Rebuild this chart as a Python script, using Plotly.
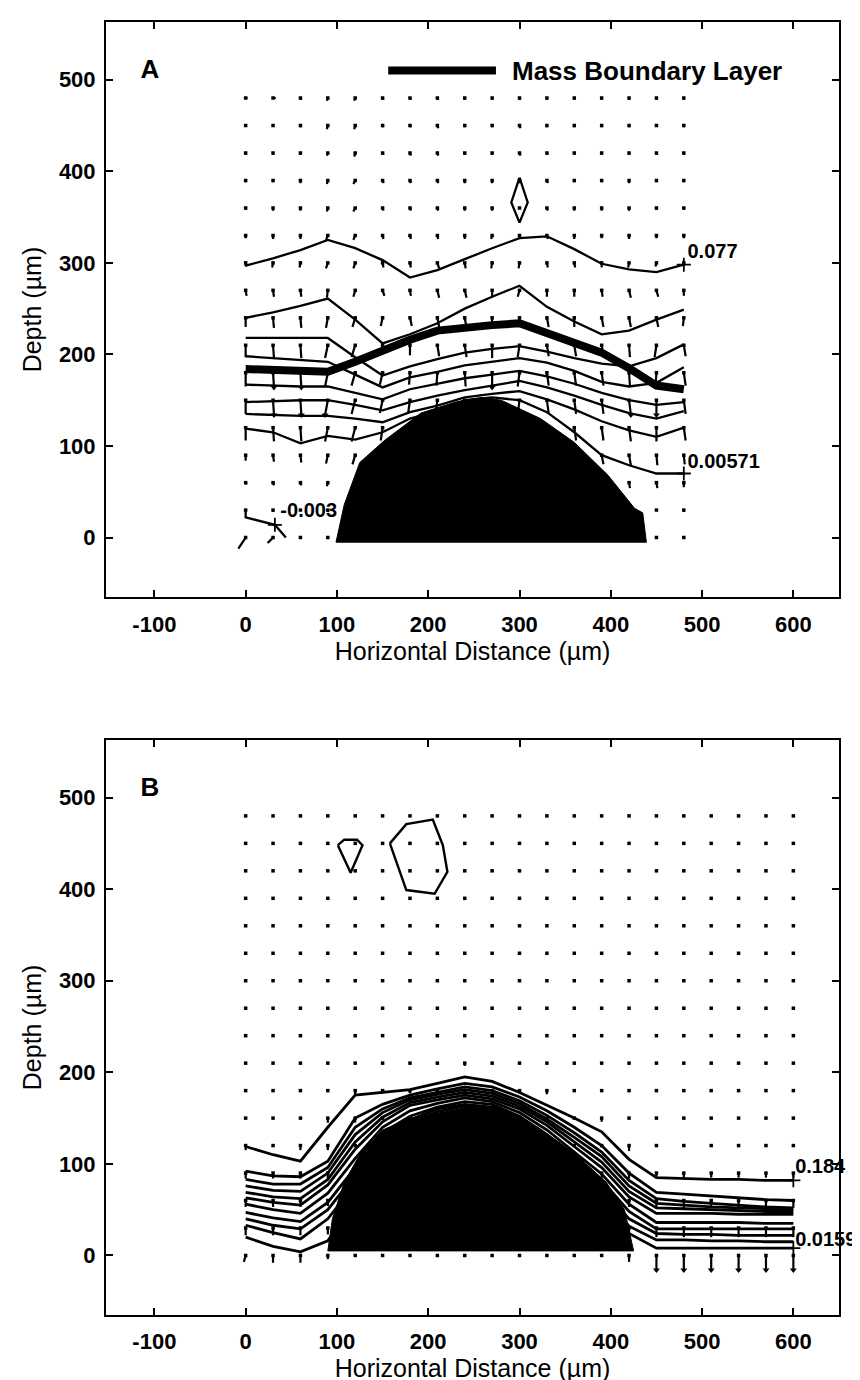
import plotly.graph_objects as go

# ---------------- Panel A data ----------------
grid_x_A = [0, 30, 60, 90, 120, 150, 180, 210, 240, 270, 300, 330, 360, 390, 420, 450, 480]
grid_y_A = [480, 450, 420, 390, 360, 330, 300, 270, 240, 210, 180, 150, 120, 90, 60, 30, 0]
# velocity vectors (µm on the plot) per row (top -> bottom), per column (left -> right)
U_A = [
    [2, 3, 1, -1, -1, 1, 1, 1, 0, 0, 1, 0, 0, 0, 0, 0, 0],
    [0, 1, 1, -1, -1, 1, 1, 1, 0, 0, 1, 0, 0, 0, 0, 0, 0],
    [0, 0, 0, -1, -1, 1, 1, 1, 0, 0, 1, 1, 0, 0, 0, 0, 0],
    [0, 0, 0, -1, -2, 1, 1, 1, 0, 0, 1, 1, 0, 0, 0, 0, 0],
    [0, 0, 0, -1, -2, 1, 1, 1, 0, 0, 0, 1, 0, 0, 0, 0, 0],
    [0, 0, 0, -2, -2, 1, 1, 1, 0, -1, 1, 1, 0, 0, 0, 0, 0],
    [0, -1, -1, -2, -2, 1, 1, 2, 1, -1, -1, 1, 1, 0, -1, -1, 0],
    [1, 1, 1, -1, -2, 2, 1, 2, 2, 0, -2, 0, 0, 1, 2, 2, 0],
    [0, 1, 1, -2, -3, -2, 2, 2, 2, 0, -2, 2, 0, 2, 2, 2, -1],
    [0, 1, 1, -3, -4, -3, 0, 2, 2, 0, -2, 2, 2, 2, 1, -2, 2],
    [0, 1, 1, -3, -4, -3, -1, -1, 1, 0, -2, 2, 2, 2, 1, -1, 2],
    [0, 1, 1, -3, -4, -3, -2, -2, 0, 0, -2, 2, 2, 2, 2, 0, 2],
    [0, 1, 1, -3, -4, -2, -2, -2, 0, 0, -1, 2, 2, 2, 2, 0, 2],
    [0, 1, 1, -2, -3, -2, -2, -1, 0, 0, 0, 2, 2, 2, 2, 1, 1],
    [1, 1, 1, -1, -2, -2, 0, 0, 0, 0, 0, 0, 0, 1, 1, 1, 0],
    [0, 0, 0, 0, 0, 0, 0, 0, 0, 0, 0, 0, 0, 0, 0, 0, 0],
    [-8, -6, 0, 0, 0, 0, 0, 0, 0, 0, 0, 0, 0, 0, 0, 0, 0],
]
V_A = [
    [0, 0, -2, -3, -3, -2, -2, -2, -2, -2, -2, -2, -2, -2, -2, -2, -2],
    [0, 0, -2, -4, -4, -2, -2, -3, -2, -2, -3, -2, -2, -2, -2, 0, -2],
    [-2, -2, -2, -3, -4, -2, -3, -3, -2, -2, -3, -2, -2, -2, -2, -2, -2],
    [-2, -2, -3, -4, -4, -3, -3, -3, -3, -3, -3, -3, -2, -2, -3, -2, -2],
    [-2, -3, -3, -4, -4, -3, -3, -3, -3, -3, 0, -3, -3, -3, -3, -2, -2],
    [-3, -4, -4, -5, -5, -4, -4, -4, -4, -4, -4, -4, -4, -3, -4, -3, -3],
    [-4, -5, -5, -6, -6, -5, -5, -6, -6, -6, -6, -5, -5, -5, -5, -4, -4],
    [-6, -7, -7, -8, -7, -6, -6, -8, -8, -8, -7, -7, -7, -7, -8, -7, -6],
    [-10, -11, -11, -11, -10, -9, -9, -10, -11, -11, -10, -10, -10, -10, -10, -10, -9],
    [-13, -14, -14, -14, -13, -11, -11, -12, -13, -14, -13, -12, -12, -12, -13, -13, -12],
    [-15, -16, -16, -15, -14, -13, -13, -14, -15, -16, -15, -14, -14, -14, -15, -15, -14],
    [-15, -16, -16, -16, -15, -14, -14, -15, -16, -16, -16, -15, -15, -15, -16, -16, -15],
    [-14, -15, -15, -15, -15, -14, -14, -14, -14, -14, -14, -14, -14, -14, -15, -15, -14],
    [-6, -7, -8, -9, -10, -11, -9, -9, -9, -9, -9, -9, -9, -10, -11, -11, -10],
    [-2, -3, -3, -4, -5, -5, 0, 0, 0, 0, 0, 0, 0, -5, -6, -6, -5],
    [-1, -2, 0, -2, 0, 0, 0, 0, 0, 0, 0, 0, 0, 0, -3, -1, -2],
    [-12, -6, 0, 0, 0, 0, 0, 0, 0, 0, 0, 0, 0, 0, 0, 0, 0],
]
# contour lines: depth at each grid column
A_c1 = [297, 305, 314, 325, 316, 303, 284, 292, 304, 316, 327, 329, 315, 299, 293, 290, 298]
A_c2 = [240, 246, 253, 261, 238, 212, 222, 234, 250, 263, 275, 252, 236, 222, 226, 238, 249]
A_c3 = [218, 218, 218, 218, 197, 177, 187, 195, 202, 206, 209, 203, 196, 190, 187, 196, 211]
A_c4 = [198, 196, 194, 192, 178, 164, 175, 181, 188, 192, 196, 191, 182, 170, 165, 169, 186]
A_c5 = [167, 166, 165, 165, 158, 151, 162, 168, 174, 178, 182, 176, 168, 158, 150, 145, 148]
A_c6 = [148, 149, 150, 150, 145, 139, 148, 155, 161, 166, 171, 164, 155, 145, 136, 130, 138]
A_c7 = [135, 134, 133, 133, 130, 126, 137, 144, 153, 157, 160, 151, 140, 127, 117, 110, 120]
A_c8 = [119, 115, 103, 111, 107, 115, 130, 138, 150, 153, 150, 137, 115, 90, 79, 70, 70]
A_mbl = [184, 183, 182, 181, 192, 205, 216, 226, 230, 232, 234, 224, 213, 202, 185, 166, 162]
A_neg_x = [0, 0, 32, 44]
A_neg_y = [30, 22, 14, 0]
A_diamond_x = [300, 309, 300, 291, 300]
A_diamond_y = [393, 366, 344, 366, 393]
A_dome_x = [99, 108, 125, 152, 192, 230, 258, 280, 323, 360, 397, 426, 435, 439, 99]
A_dome_y = [-5, 36, 82, 106, 136, 148, 153, 150, 130, 104, 68, 32, 27, -5, -5]
A_label_text = ["0.077", "0.00571"]
A_label_x = [480, 480]
A_label_y = [298, 70]
A_label_ty = [311, 81]
A_neg_label = "-0.003"
A_neg_label_pt = (32, 14)
A_neg_label_txt = (38, 28)

# ---------------- Panel B data ----------------
grid_x_B = [0, 30, 60, 90, 120, 150, 180, 210, 240, 270, 300, 330, 360, 390, 420, 450, 480, 510, 540, 570, 600]
grid_y_B = [480, 450, 420, 390, 360, 330, 300, 270, 240, 210, 180, 150, 120, 90, 60, 30, 0]
Z21 = [0] * 21
U_B = [Z21] * 16 + [[-2] + [0] * 20]
V_B = [
    Z21, Z21, Z21, Z21, Z21, Z21, Z21, Z21, Z21,
    [0, 0, 0, 0, 0, 0, 0, -2, -3, 0, 0, 0, 0, 0, 0, 0, 0, 0, 0, 0, 0],
    [0, 0, 0, 0, -5, -3, -3, 0, 0, 0, -3, -4, 0, 0, 0, 0, 0, 0, 0, 0, 0],
    [0, 0, 0, -5, -5, 0, 0, 0, 0, 0, 0, 0, 0, -4, 0, 0, 0, 0, 0, 0, 0],
    [-5, 0, -5, -5, 0, 0, 0, 0, 0, 0, 0, 0, 0, 0, -6, 0, 0, 0, 0, 0, 0],
    [-6, -6, -6, -6, 0, 0, 0, 0, 0, 0, 0, 0, 0, -6, -6, -5, -5, -5, -5, -5, -5],
    [-7, -7, -7, -6, 0, 0, 0, 0, 0, 0, 0, 0, 0, 0, -7, -8, -8, -8, -8, -8, -8],
    [-8, -8, -8, -7, 0, 0, 0, 0, 0, 0, 0, 0, 0, 0, -8, -10, -10, -10, -10, -10, -10],
    [-7, -8, -8, -4, 0, 0, 0, 0, 0, 0, 0, 0, 0, 0, -7, -16, -16, -16, -16, -16, -16],
]
B_L1 = [119, 110, 103, 140, 175, 178, 181, 188, 195, 190, 178, 164, 150, 135, 105, 85, 84, 83, 83, 82, 82]
B_L2 = [92, 87, 86, 103, 150, 165, 175, 182, 188, 184, 173, 158, 140, 120, 90, 69, 67, 65, 63, 61, 60]
B_L3 = [83, 78, 78, 96, 140, 160, 172, 178, 184, 180, 169, 153, 134, 113, 82, 62, 59, 57, 55, 53, 52]
B_L4 = [76, 71, 70, 90, 132, 156, 170, 176, 181, 177, 166, 149, 129, 108, 76, 57, 55, 53, 52, 51, 50]
B_L5 = [69, 64, 62, 83, 124, 151, 167, 173, 178, 174, 163, 146, 124, 102, 70, 52, 51, 50, 49, 48, 48]
B_L6 = [63, 58, 55, 77, 116, 146, 164, 170, 175, 171, 160, 142, 119, 96, 64, 46, 46, 46, 45, 45, 45]
B_L7 = [56, 50, 46, 68, 106, 140, 158, 166, 172, 168, 156, 137, 113, 89, 56, 36, 36, 36, 36, 35, 35]
B_L8 = [47, 41, 37, 58, 96, 134, 152, 162, 168, 165, 152, 132, 107, 82, 48, 29, 29, 29, 29, 29, 29]
B_L9 = [40, 33, 29, 50, 88, 128, 148, 160, 165, 162, 150, 128, 101, 75, 40, 24, 23, 23, 22, 22, 22]
B_L10 = [33, 25, 18, 40, 78, 120, 145, 157, 163, 160, 147, 124, 96, 68, 32, 17, 17, 16, 16, 15, 15]
B_L11 = [20, 10, 4, 16, 60, 110, 140, 154, 160, 157, 144, 120, 90, 60, 24, 8, 8, 8, 8, 8, 8]
B_kite_x = [101, 108, 122, 128, 115, 101]
B_kite_y = [448, 454, 454, 448, 418, 448]
B_loop_x = [158, 176, 205, 216, 221, 207, 176, 158]
B_loop_y = [450, 471, 476, 448, 419, 395, 399, 450]
B_dome_x = [90, 95, 108, 125, 150, 180, 215, 245, 275, 320, 360, 395, 415, 425, 90]
B_dome_y = [5, 40, 80, 110, 137, 150, 156, 162, 158, 140, 112, 80, 50, 5, 5]
B_label_text = ["0.184", "0.0159"]
B_label_x = [600, 600]
B_label_y = [82, 8]
B_label_ty = [96, 16]

X_TICKS = [-100, 0, 100, 200, 300, 400, 500, 600]
X_TICKTEXT = ["-100", "0", "100", "200", "300", "400", "500", "600"]
Y_TICKS = [0, 100, 200, 300, 400, 500]
X_TITLE = "Horizontal Distance (µm)"
Y_TITLE = "Depth (µm)"

FONT = "Liberation Sans, Arial, Helvetica, sans-serif"
fig = go.Figure()


def add(tr, ax):
    tr.update(xaxis="x" if ax == 1 else "x2", yaxis="y" if ax == 1 else "y2", showlegend=False,
              hoverinfo="skip")
    fig.add_trace(tr)


def quiver(gx, gy, U, V, ax):
    dots_x, dots_y, sx, sy, hx, hy = [], [], [], [], [], []
    for r, y in enumerate(gy):
        for c, x in enumerate(gx):
            u, v = U[r][c], V[r][c]
            dots_x.append(x)
            dots_y.append(y)
            if u or v:
                sx += [x, x + u, None]
                sy += [y, y + v, None]
                if abs(v) >= 16:
                    hx.append(x + u)
                    hy.append(y + v)
    add(go.Scatter(x=dots_x, y=dots_y, mode="markers",
                   marker=dict(color="black", size=3.5, symbol="square", line=dict(width=0))), ax)
    add(go.Scatter(x=sx, y=sy, mode="lines", line=dict(color="black", width=2.2)), ax)
    if hx:
        add(go.Scatter(x=hx, y=hy, mode="markers",
                       marker=dict(symbol="triangle-down", color="black", size=6)), ax)


def line(xs, ys, ax, w=2.0):
    add(go.Scatter(x=xs, y=ys, mode="lines", line=dict(color="black", width=w)), ax)


LABEL_FONT = dict(family=FONT, size=20, color="black", weight="bold")

# ---- Panel A ----
quiver(grid_x_A, grid_y_A, U_A, V_A, 1)
for c in [A_c1, A_c2, A_c3, A_c4, A_c5, A_c6, A_c7, A_c8]:
    line(grid_x_A, c, 1, w=2.3)
line(A_neg_x, A_neg_y, 1, w=2.3)
line(A_diamond_x, A_diamond_y, 1, w=2.3)
line(grid_x_A, A_mbl, 1, w=8)
add(go.Scatter(x=[A_neg_label_txt[0]], y=[A_neg_label_txt[1]], mode="text", text=[A_neg_label],
               textposition="middle right", textfont=LABEL_FONT, cliponaxis=False), 1)
add(go.Scatter(x=A_dome_x, y=A_dome_y, mode="lines", fill="toself", fillcolor="black",
               line=dict(color="black", width=1)), 1)
add(go.Scatter(x=A_label_x + [A_neg_label_pt[0]], y=A_label_y + [A_neg_label_pt[1]], mode="markers",
               marker=dict(symbol="cross-thin", size=10, line=dict(color="black", width=1.8))), 1)
add(go.Scatter(x=[v + 4 for v in A_label_x], y=A_label_ty, mode="text", text=A_label_text,
               textposition="middle right", textfont=LABEL_FONT, cliponaxis=False), 1)

# ---- Panel B ----
quiver(grid_x_B, grid_y_B, U_B, V_B, 2)
for c in [B_L1, B_L2, B_L3, B_L4, B_L5, B_L6, B_L7, B_L8, B_L9, B_L10, B_L11]:
    line(grid_x_B, c, 2, w=2.8)
line(B_kite_x, B_kite_y, 2, w=2.4)
line(B_loop_x, B_loop_y, 2, w=2.4)
add(go.Scatter(x=B_dome_x, y=B_dome_y, mode="lines", fill="toself", fillcolor="black",
               line=dict(color="black", width=1)), 2)
add(go.Scatter(x=B_label_x, y=B_label_y, mode="markers",
               marker=dict(symbol="cross-thin", size=10, line=dict(color="black", width=1.8))), 2)
add(go.Scatter(x=[v + 2 for v in B_label_x], y=B_label_ty, mode="text", text=B_label_text,
               textposition="middle right", textfont=LABEL_FONT, cliponaxis=False), 2)

# panel letters
for ax, letter in [(1, "A"), (2, "B")]:
    add(go.Scatter(x=[-105], y=[509], mode="text", text=[letter], textposition="middle center",
                   textfont=dict(family=FONT, size=26, color="black", weight="bold"),
                   cliponaxis=False), ax)

axis_common = dict(
    showline=True, linecolor="black", linewidth=2, mirror="ticks",
    ticks="inside", ticklen=7, tickwidth=1.6, tickcolor="black",
    showgrid=False, zeroline=False,
    tickfont=dict(family=FONT, size=22, color="black", weight="bold"),
)
xa = dict(axis_common, range=[-153, 650], tickvals=X_TICKS, ticktext=X_TICKTEXT, ticklabelstandoff=6,
          title=dict(text=X_TITLE, font=dict(family=FONT, size=25, color="black"), standoff=4))
ya = dict(axis_common, range=[-65, 563], tickvals=Y_TICKS, ticklabelstandoff=4,
          title=dict(text=Y_TITLE, font=dict(family=FONT, size=25, color="black"), standoff=10))

fig.update_layout(
    width=860, height=1380,
    margin=dict(l=98, r=29, t=13, b=63),
    paper_bgcolor="white", plot_bgcolor="white",
    xaxis=dict(xa, anchor="y"),
    yaxis=dict(ya, anchor="x", domain=[0.5552, 1.0]),
    xaxis2=dict(xa, anchor="y2"),
    yaxis2=dict(ya, anchor="x2", domain=[0.0, 0.4448]),
    shapes=[dict(type="line", xref="x domain", yref="y domain", x0=0.385, x1=0.532,
                 y0=0.9155, y1=0.9155, line=dict(color="black", width=8))],
    annotations=[dict(text="Mass Boundary Layer", xref="x domain", yref="y domain",
                      x=0.551, y=0.9155, xanchor="left", yanchor="middle", showarrow=False,
                      font=dict(family=FONT, size=26, color="black", weight="bold"))],
)

fig.write_html("out.html")
